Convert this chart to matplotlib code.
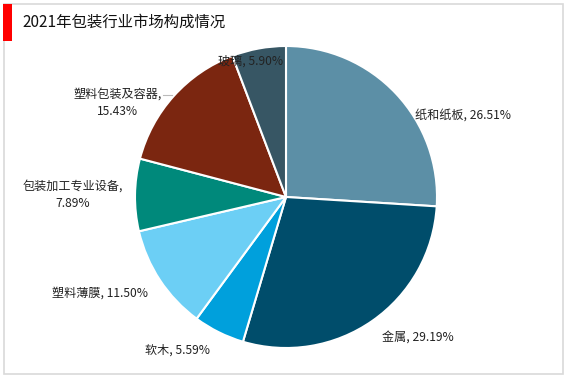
import matplotlib
matplotlib.use("Agg")
import matplotlib.pyplot as plt
from matplotlib.patches import Rectangle

plt.rcParams['font.family'] = ['Noto Sans CJK SC', 'DejaVu Sans']

title = "2021年包装行业市场构成情况"
categories = ["纸和纸板", "金属", "软木", "塑料薄膜", "包装加工专业设备", "塑料包装及容器", "玻璃"]
values = [26.51, 29.19, 5.59, 11.50, 7.89, 15.43, 5.90]
colors = ["#5c8fa6", "#004d6b", "#00a0dc", "#6ccff5", "#00897b", "#7b2610", "#375664"]

# label text anchors in pixels (x, y from top), alignment, line-break flag
label_pos = [(415, 115, "left"), (382, 337, "left"), (145, 350, "left"),
             (52, 293, "left"), (73, 195, "center"), (118, 103, "center"),
             (218, 61, "left")]
wrap = [False, False, False, False, True, True, False]

W, H = 567, 378
fig = plt.figure(figsize=(W / 100, H / 100), dpi=100)
ax = fig.add_axes([0, 0, 1, 1])
ax.set_xlim(0, W)
ax.set_ylim(0, H)
ax.set_aspect("equal")
ax.axis("off")

# frame and title bar
ax.add_patch(Rectangle((3.5, H - 373.5), 559, 370, fill=False, ec="#d9d9d9", lw=1.2))
ax.add_patch(Rectangle((3, H - 41), 9, 37, color="#ff0000", lw=0))
ax.text(22, H - 22, title, fontsize=11.1, va="center", ha="left", color="#111111")

cx, cy, r = 286, H - 197, 151
ax.pie(values, colors=colors, startangle=90, counterclock=False,
       center=(cx, cy), radius=r, frame=True,
       wedgeprops=dict(edgecolor="white", linewidth=1.5))
ax.set_xlim(0, W)
ax.set_ylim(0, H)
ax.axis("off")

for name, v, (px, py, ha), w in zip(categories, values, label_pos, wrap):
    s = f"{name},\n{v:.2f}%" if w else f"{name}, {v:.2f}%"
    ax.text(px, H - py, s, fontsize=8.7, ha=ha, va="center", color="#222222",
            linespacing=1.45, multialignment="center")

# small leader line next to the 塑料包装及容器 label
ax.plot([163, 172], [H - 95, H - 95], color="#bbbbbb", lw=0.8)

fig.savefig("out.png", dpi=100)
